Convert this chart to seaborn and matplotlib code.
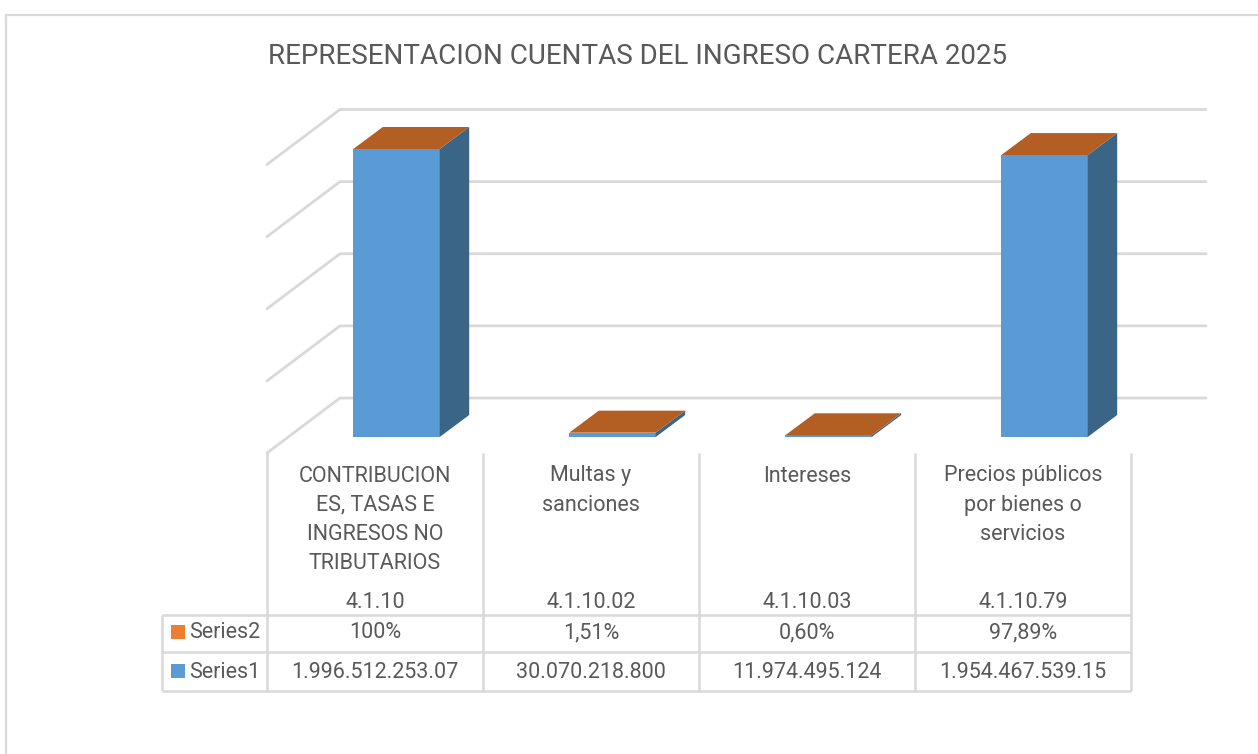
import matplotlib
matplotlib.use("Agg")
from matplotlib import pyplot as plt
from matplotlib.patches import Polygon, Rectangle
import pandas as pd
import seaborn as sns

# datos de la tabla
codigos = ["4.1.10", "4.1.10.02", "4.1.10.03", "4.1.10.79"]
nombres = ["CONTRIBUCION\nES, TASAS E\nINGRESOS NO\nTRIBUTARIOS", "Multas y\nsanciones", "Intereses",
           "Precios públicos\npor bienes o\nservicios"]
series1 = [1996512253070, 30070218800, 11974495124, 1954467539150]
series1_txt = ["1.996.512.253.07", "30.070.218.800", "11.974.495.124", "1.954.467.539.15"]
series2_txt = ["100%", "1,51%", "0,60%", "97,89%"]
grid_vals = [0, 0.5e12, 1e12, 1.5e12, 2e12]
titulo = "REPRESENTACION CUENTAS DEL INGRESO CARTERA 2025"

AZUL = "#5B9BD5"
AZUL_OSC = "#3A6587"
NARANJA = "#ED7D31"
NARANJA_OSC = "#B35E22"
GRIS = "#D9D9D9"
TEXTO = "#595959"

W, H = 1258, 754
BASE_Y = 437      # pixel del valor 0 en el plano de las barras
X0 = 396.5        # pixel del centro de la primera barra
PX_CAT = 216.0    # pixeles por categoria
PX_VAL = 288.0 / 1996512253070  # pixeles por unidad de valor

sns.set_theme(style="white")
plt.rcParams["font.family"] = ["Roboto", "Liberation Sans", "DejaVu Sans"]

fig = plt.figure(figsize=(W / 100, H / 100), dpi=100)
ax = fig.add_axes([0, 0, 1, 1])

df = pd.DataFrame({"codigo": codigos, "valor": series1})
sns.barplot(data=df, x="codigo", y="valor", color=AZUL, saturation=1, width=0.40, ax=ax, zorder=3, linewidth=0)
ax.set_xlim(-X0 / PX_CAT, (W - X0) / PX_CAT)
ax.set_ylim(-(H - BASE_Y) / PX_VAL, BASE_Y / PX_VAL)
ax.set_axis_off()

# caras laterales y superiores de las barras
dx = 29.5 / PX_CAT
dy = 22 / PX_VAL
for b in ax.patches[:len(series1)]:
    x1 = b.get_x()
    x2 = x1 + b.get_width()
    h = b.get_height()
    ax.add_patch(Polygon([(x2, 0), (x2 + dx, dy), (x2 + dx, h + dy), (x2, h)], closed=True,
                         facecolor=AZUL_OSC, edgecolor="none", zorder=3))
    ax.add_patch(Polygon([(x1, h), (x1 + dx, h + dy), (x2 + dx, h + dy), (x2, h)], closed=True,
                         facecolor=NARANJA_OSC, edgecolor="none", zorder=4))

# rejilla: pared del fondo y piso
xleft = (267 - X0) / PX_CAT
xback = (340 - X0) / PX_CAT
xright = (1206 - X0) / PX_CAT
atras = 39 / PX_VAL
frente = 16 / PX_VAL
for v in grid_vals:
    ax.plot([xleft, xback, xright], [v - frente, v + atras, v + atras], color=GRIS, lw=2, zorder=1,
            solid_joinstyle="miter", solid_capstyle="round")

# capa en pixeles para titulo, marco y tabla
ov = fig.add_axes([0, 0, 1, 1], facecolor="none")
ov.set_xlim(0, W)
ov.set_ylim(H, 0)
ov.set_axis_off()

ov.plot([6, 6, W], [H, 14.5, 14.5], color=GRIS, lw=1.6)
ov.text(637.5, 56.5, titulo, ha="center", va="center", fontsize=20, color=TEXTO)

cols = [267, 483, 699, 915, 1131]
filas = [615, 652, 691]
for x in cols:
    ov.plot([x, x], [453, filas[-1]], color=GRIS, lw=1.8, solid_capstyle="butt")
ov.plot([162, 162], [filas[0], filas[-1]], color=GRIS, lw=1.8, solid_capstyle="butt")
for y in filas:
    ov.plot([162, cols[-1]], [y, y], color=GRIS, lw=1.8, solid_capstyle="butt")

FS = 15.5
for i in range(len(codigos)):
    cx = (cols[i] + cols[i + 1]) / 2
    for j, linea in enumerate(nombres[i].split("\n")):
        ov.text(cx, 476 + 29.2 * j, linea, ha="center", va="center", fontsize=FS, color=TEXTO)
    ov.text(cx, 602, codigos[i], ha="center", va="center", fontsize=FS, color=TEXTO)
    ov.text(cx, 633, series2_txt[i], ha="center", va="center", fontsize=FS, color=TEXTO)
    ov.text(cx, 672, series1_txt[i], ha="center", va="center", fontsize=FS, color=TEXTO)

ov.add_patch(Rectangle((171, 625), 14, 14, facecolor=NARANJA, edgecolor="none"))
ov.add_patch(Rectangle((171, 664), 14, 14, facecolor=AZUL, edgecolor="none"))
ov.text(189, 633, "Series2", ha="left", va="center", fontsize=FS, color=TEXTO)
ov.text(189, 672, "Series1", ha="left", va="center", fontsize=FS, color=TEXTO)

fig.savefig("out.png", dpi=100)
